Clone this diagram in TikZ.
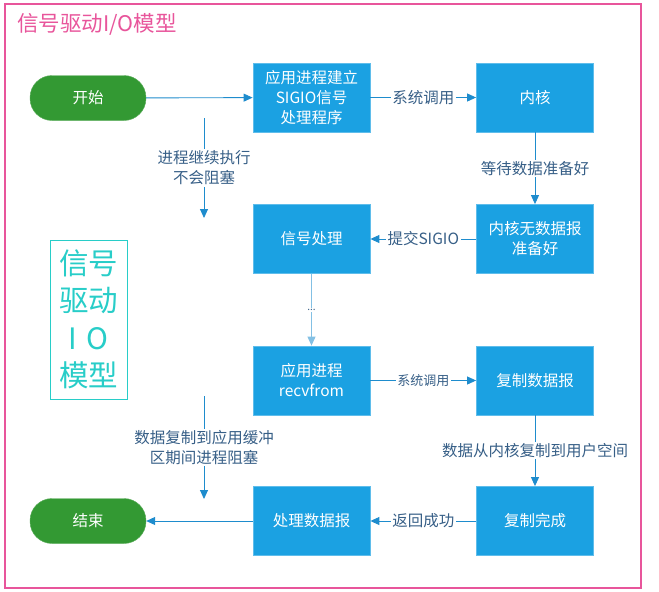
\documentclass[tikz,border=0pt]{standalone}
\usepackage{fontspec}
\setmainfont{Noto Sans CJK SC}
\usetikzlibrary{arrows.meta,positioning}
\definecolor{boxblue}{RGB}{27,161,226}
\definecolor{startgreen}{RGB}{51,153,51}
\definecolor{lineblue}{RGB}{30,140,205}
\definecolor{lbltext}{RGB}{55,95,135}
\definecolor{framepink}{RGB}{232,85,155}
\definecolor{sidecyan}{RGB}{40,205,200}

\tikzset{
    stepbox/.style={rectangle, fill=boxblue, draw=boxblue!70!white, line width=0.8pt,
        minimum width=117pt, minimum height=69pt, text=white, align=center,
        font=\fontsize{15.5}{20}\selectfont, inner sep=0pt},
    termbox/.style={rectangle, rounded corners=22pt, fill=startgreen, draw=startgreen!80!white,
        minimum width=116pt, minimum height=45pt, text=white, font=\fontsize{15.5}{20}\selectfont},
    arr/.style={draw=lineblue, line width=0.9pt, -{Triangle[length=9pt,width=8pt]}},
    lbl/.style={fill=white, text=lbltext, font=\fontsize{15.5}{20}\selectfont, align=center,
        inner sep=1.5pt}
}

\begin{document}
\begin{tikzpicture}[x=1pt,y=-1pt]
        \useasboundingbox (0,0) rectangle (659,592);
        \draw[framepink, line width=1.2pt] (5,4) rectangle (641,588);
        \node[anchor=west, text=framepink, font=\fontsize{21.5}{24}\selectfont, inner sep=0pt] (title) at (17,24) {信号驱动I/O模型};

        % side caption
        \node[draw=sidecyan, line width=1pt, text=sidecyan, minimum width=77pt, minimum height=159pt,
            align=center, font=\fontsize{29.5}{37.5}\selectfont] (side) at (88.5,319.5) {信号\\驱动\\I\,\,O\\模型};

        % left column
        \node[termbox] (start) at (88,98) {开始};
        \node[termbox] (stop) at (88,521) {结束};

        % middle column
        \node[stepbox] (setup) at (311.5,97.5) {应用进程建立\\SIGIO信号\\处理程序};
        \node[stepbox] (handler) at (311.5,239) {信号处理};
        \node[stepbox] (recv) at (311.5,380.5) {应用进程\\recvfrom};
        \node[stepbox] (process) at (311.5,521) {处理数据报};

        % right column
        \node[stepbox] (kernel) at (535,97.5) {内核};
        \node[stepbox] (notready) at (535,239) {内核无数据报\\准备好};
        \node[stepbox] (copy) at (535,380.5) {复制数据报};
        \node[stepbox] (copied) at (535,521) {复制完成};

        % free arrows
        \coordinate (runtop) at (204,118);
        \coordinate (runbot) at (204,218);
        \coordinate (blocktop) at (204,396);
        \coordinate (blockbot) at (204,499);

        \draw[arr] (start) -- (setup);
        \draw[arr] (setup) -- node[lbl] {系统调用} (kernel);
        \draw[arr] (kernel) -- node[lbl] {等待数据准备好} (notready);
        \draw[arr] (notready) -- node[lbl] {提交SIGIO} (handler);
        \draw[arr, draw=lineblue!55!white] (handler) -- node[lbl, font=\fontsize{10}{12}\selectfont] {...} (recv);
        \draw[arr] (recv) -- node[lbl, font=\fontsize{13}{15}\selectfont] {系统调用} (copy);
        \draw[arr] (copy) -- node[lbl] {数据从内核复制到用户空间} (copied);
        \draw[arr] (copied) -- node[lbl] {返回成功} (process);
        \draw[arr] (process) -- (stop);

        \draw[arr] (runtop) -- node[lbl] {进程继续执行\\不会阻塞} (runbot);
        \draw[arr] (blocktop) -- node[lbl] {数据复制到应用缓冲\\区期间进程阻塞} (blockbot);
    \end{tikzpicture}
\end{document}
